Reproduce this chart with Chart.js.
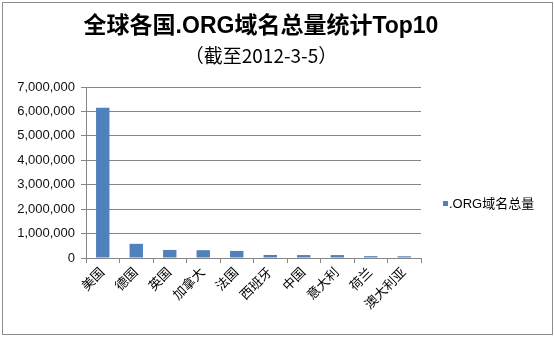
<!DOCTYPE html>
<html>
<head>
<meta charset="utf-8">
<script src="https://cdn.jsdelivr.net/npm/chart.js@4/dist/chart.umd.min.js"></script>
<style>
html,body{margin:0;padding:0;background:#fff;}
#wrap{width:554px;height:337px;position:relative;}
</style>
</head>
<body>
<div id="wrap"><canvas id="c" width="554" height="337"></canvas></div>
<script>
const categories = ["美国","德国","英国","加拿大","法国","西班牙","中国","意大利","荷兰","澳大利亚"];
const orgCounts = [6150000, 580000, 330000, 320000, 290000, 125000, 120000, 120000, 75000, 70000];
const seriesName = ".ORG域名总量";
const yTicks = [0,1000000,2000000,3000000,4000000,5000000,6000000,7000000];
const titleText = "全球各国.ORG域名总量统计Top10";
const subtitleText = "（截至2012-3-5）";

const CJK = "'Liberation Sans', Arial, 'Noto Sans CJK SC', sans-serif";

const framePlugin = {
  id: 'frame',
  beforeDraw(chart) {
    const ctx = chart.ctx;
    ctx.save();
    ctx.fillStyle = '#fff';
    ctx.fillRect(0, 0, chart.width, chart.height);
    ctx.strokeStyle = '#8c8c8c';
    ctx.lineWidth = 1;
    ctx.strokeRect(2.5, 2.5, 550, 332);
    ctx.restore();
  },
  afterDraw(chart) {
    const ctx = chart.ctx;
    const ds = chart.data.datasets[0];
    ctx.save();
    // titles
    ctx.fillStyle = '#000';
    ctx.textAlign = 'center';
    ctx.textBaseline = 'middle';
    ctx.font = "bold 23px " + CJK;
    ctx.fillText(titleText, 261, 27);
    ctx.font = "19px 'Noto Sans CJK SC', 'Liberation Sans', sans-serif";
    ctx.fillText(subtitleText, 261, 56);
    // legend
    ctx.fillStyle = ds.backgroundColor;
    ctx.fillRect(443, 201, 5, 5);
    ctx.fillStyle = '#000';
    ctx.font = "13px " + CJK;
    ctx.textAlign = 'left';
    ctx.fillText(ds.label, 449, 204);
    ctx.restore();
  }
};

new Chart(document.getElementById('c'), {
  type: 'bar',
  data: {
    labels: categories,
    datasets: [{
      label: seriesName,
      data: orgCounts,
      backgroundColor: '#4f81bd',
      borderWidth: 0,
      barPercentage: 0.4,
      categoryPercentage: 1.0
    }]
  },
  options: {
    responsive: false,
    animation: false,
    devicePixelRatio: 1,
    layout: { padding: { top: 87, right: 133, bottom: 0, left: 0 } },
    plugins: {
      legend: { display: false },
      tooltip: { enabled: false },
      title: { display: false },
      subtitle: { display: false }
    },
    scales: {
      x: {
        offset: true,
        grid: {
          offset: true,
          drawOnChartArea: false,
          drawTicks: true,
          tickLength: 5,
          color: '#868686'
        },
        border: { color: '#868686' },
        ticks: {
          minRotation: 45,
          maxRotation: 45,
          autoSkip: false,
          color: '#000',
          padding: 2,
          font: { family: CJK, size: 13 }
        },
        afterFit(scale) { scale.height = 79; }
      },
      y: {
        min: 0,
        max: 7000000,
        afterBuildTicks(scale) { scale.ticks = yTicks.map(v => ({ value: v })); },
        grid: {
          color: '#868686',
          tickLength: 5,
          drawTicks: true
        },
        border: { color: '#868686' },
        ticks: {
          color: '#111',
          padding: 6,
          font: { family: "'Liberation Sans', Arial, sans-serif", size: 13 },
          callback: v => v.toLocaleString('en-US')
        },
        afterFit(scale) { scale.width = 86; }
      }
    }
  },
  plugins: [framePlugin]
});
</script>
</body>
</html>
